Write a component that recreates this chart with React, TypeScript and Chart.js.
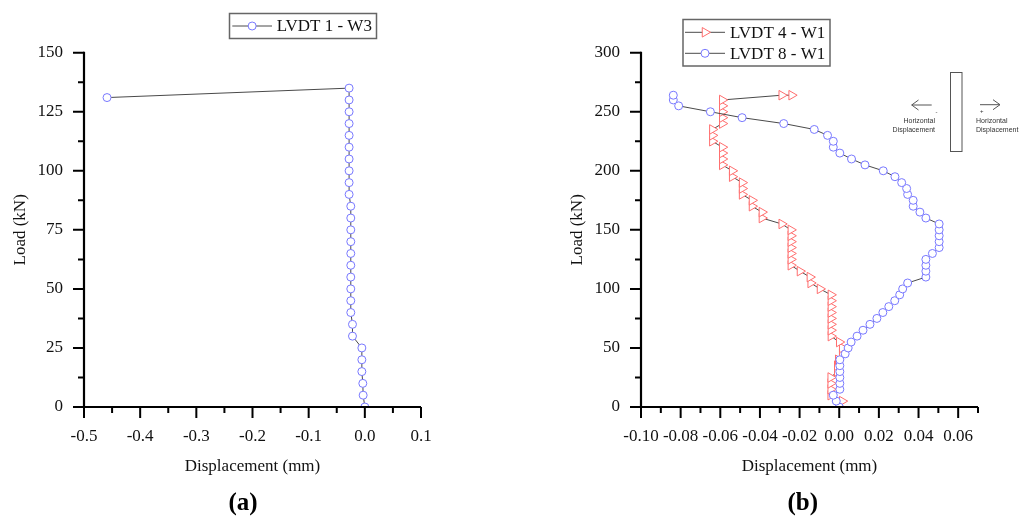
import { useEffect, useRef } from 'react';
import { Chart, registerables } from 'chart.js';

Chart.register(...registerables);

// ---------- (a) LVDT 1 - W3 ----------
const loadA = [0, 5, 10, 15, 20, 25, 30, 35, 40, 45, 50, 55, 60, 65, 70, 75, 80, 85, 90, 95, 100, 105, 110, 115, 120, 125, 130, 135, 131];
const dispA = [0, -0.003, -0.0036, -0.0053, -0.0053, -0.0053, -0.022, -0.022, -0.025, -0.025, -0.025, -0.025, -0.025, -0.025, -0.025, -0.025, -0.025, -0.025, -0.028, -0.028, -0.028, -0.028, -0.028, -0.028, -0.028, -0.028, -0.028, -0.028, -0.459];

// ---------- (b) LVDT 4 - W1 ----------
const loadB4 = [0, 5, 10, 15, 20, 25, 30, 35, 40, 45, 50, 55, 60, 65, 70, 75, 80, 85, 90, 95, 100, 105, 110, 115, 120, 125, 130, 135, 140, 145, 150, 155, 160, 165, 170, 175, 180, 185, 190, 195, 200, 205, 210, 215, 220, 225, 230, 235, 240, 245, 250, 255, 260, 264, 264];
const dispB4 = [0, 0.0015, -0.0043, -0.0043, -0.0043, -0.0043, -0.001, -0.001, -0.0005, 0.0015, 0.0015, 0.0, -0.0042, -0.0042, -0.0042, -0.0042, -0.0042, -0.0042, -0.0042, -0.0042, -0.0097, -0.0144, -0.0148, -0.0198, -0.0244, -0.0244, -0.0244, -0.0244, -0.0244, -0.0244, -0.0244, -0.029, -0.039, -0.039, -0.044, -0.044, -0.049, -0.049, -0.049, -0.054, -0.054, -0.059, -0.059, -0.059, -0.059, -0.064, -0.064, -0.064, -0.059, -0.059, -0.059, -0.059, -0.059, -0.029, -0.024];

// ---------- (b) LVDT 8 - W1 ----------
const loadB8 = [0, 5, 10, 15, 20, 25, 30, 35, 40, 45, 50, 55, 60, 65, 70, 75, 80, 85, 90, 95, 100, 105, 110, 115, 120, 125, 130, 135, 140, 145, 150, 155, 160, 165, 170, 175, 180, 185, 190, 195, 200, 205, 210, 215, 220, 225, 230, 235, 240, 245, 250, 255, 260, 264];
const dispB8 = [0, -0.0015, -0.003, 0.0003, 0.0003, 0.0003, 0.0003, 0.0003, 0.0003, 0.003, 0.0045, 0.006, 0.009, 0.012, 0.0155, 0.019, 0.022, 0.025, 0.028, 0.0305, 0.032, 0.0345, 0.0437, 0.0437, 0.0437, 0.0437, 0.047, 0.0504, 0.0504, 0.0504, 0.0504, 0.0504, 0.0437, 0.0407, 0.0373, 0.0373, 0.0345, 0.034, 0.0315, 0.0281, 0.0222, 0.013, 0.0062, 0.0003, -0.003, -0.003, -0.0059, -0.0126, -0.028, -0.049, -0.065, -0.081, -0.0837, -0.0837];

// ---------- ticks ----------
const xTicksA = [-0.5, -0.4, -0.3, -0.2, -0.1, 0, 0.1];
const xTickLabelsA = ['-0.5', '-0.4', '-0.3', '-0.2', '-0.1', '0.0', '0.1'];
const xMinorA = [-0.45, -0.35, -0.25, -0.15, -0.05, 0.05];
const yTicksA = [0, 25, 50, 75, 100, 125, 150];
const yTickLabelsA = ['0', '25', '50', '75', '100', '125', '150'];
const yMinorA = [12.5, 37.5, 62.5, 87.5, 112.5, 137.5];

const xTicksB = [-0.1, -0.08, -0.06, -0.04, -0.02, 0, 0.02, 0.04, 0.06];
const xTickLabelsB = ['-0.10', '-0.08', '-0.06', '-0.04', '-0.02', '0.00', '0.02', '0.04', '0.06'];
const xMinorB = [-0.09, -0.07, -0.05, -0.03, -0.01, 0.01, 0.03, 0.05, 0.07];
const yTicksB = [0, 50, 100, 150, 200, 250, 300];
const yTickLabelsB = ['0', '50', '100', '150', '200', '250', '300'];
const yMinorB = [25, 75, 125, 175, 225, 275];

const SERIF = "'Liberation Serif', 'Times New Roman', serif";
const SANS = "'Liberation Sans', Arial, sans-serif";
const BLUE = '#7878ff';
const RED = '#ff6e6e';
const LINE = '#4a4a4a';

function drawMarker(ctx: CanvasRenderingContext2D, style: string, x: number, y: number, color: string) {
  ctx.save();
  ctx.strokeStyle = color;
  ctx.fillStyle = '#fff';
  ctx.lineWidth = 1;
  ctx.beginPath();
  if (style === 'circle') {
    ctx.arc(x, y, 4, 0, Math.PI * 2);
  } else {
    const r = 5.5;
    ctx.moveTo(x + r, y);
    ctx.lineTo(x - r / 2, y - r * 0.866);
    ctx.lineTo(x - r / 2, y + r * 0.866);
    ctx.closePath();
  }
  ctx.fill();
  ctx.stroke();
  ctx.restore();
}

function axesPlugin(xMaj: number[], xMin: number[], yMaj: number[], yMin: number[]) {
  return {
    id: 'axesDraw',
    afterDatasetsDraw(chart: any) {
      const { ctx, chartArea } = chart;
      const { left, right, top, bottom } = chartArea;
      const xs = chart.scales.x;
      const ys = chart.scales.y;
      ctx.save();
      ctx.strokeStyle = '#000';
      ctx.lineWidth = 2.2;
      ctx.beginPath();
      ctx.moveTo(left, top - 1);
      ctx.lineTo(left, bottom);
      ctx.lineTo(right, bottom);
      ctx.stroke();
      ctx.lineWidth = 2;
      ctx.beginPath();
      yMaj.forEach((v) => { const p = ys.getPixelForValue(v); ctx.moveTo(left - 11, p); ctx.lineTo(left, p); });
      yMin.forEach((v) => { const p = ys.getPixelForValue(v); ctx.moveTo(left - 6, p); ctx.lineTo(left, p); });
      xMaj.forEach((v) => { const p = xs.getPixelForValue(v); ctx.moveTo(p, bottom); ctx.lineTo(p, bottom + 11); });
      xMin.forEach((v) => { const p = xs.getPixelForValue(v); ctx.moveTo(p, bottom); ctx.lineTo(p, bottom + 6); });
      ctx.stroke();
      ctx.restore();
    },
  };
}

type LegendEntry = { label: string; style: string; color: string };

function legendPlugin(box: { x: number; y: number; w: number; h: number }, entries: LegendEntry[], rowY: number[], lineX: [number, number], textX: number, panel: string, panelX: number, extra?: (ctx: CanvasRenderingContext2D) => void) {
  return {
    id: 'customLegend',
    afterDraw(chart: any) {
      const ctx: CanvasRenderingContext2D = chart.ctx;
      ctx.save();
      ctx.strokeStyle = '#666';
      ctx.lineWidth = 1.5;
      ctx.strokeRect(box.x, box.y, box.w, box.h);
      entries.forEach((e, i) => {
        const y = rowY[i];
        ctx.strokeStyle = LINE;
        ctx.lineWidth = 1;
        ctx.beginPath();
        ctx.moveTo(lineX[0], y);
        ctx.lineTo(lineX[1], y);
        ctx.stroke();
        drawMarker(ctx, e.style, (lineX[0] + lineX[1]) / 2, y, e.color);
        ctx.fillStyle = '#111';
        ctx.font = `17px ${SERIF}`;
        ctx.textAlign = 'left';
        ctx.textBaseline = 'middle';
        ctx.fillText(e.label, textX, y + 1);
      });
      ctx.fillStyle = '#000';
      ctx.font = `bold 25px ${SERIF}`;
      ctx.textAlign = 'center';
      ctx.textBaseline = 'middle';
      ctx.fillText(panel, panelX, 504);
      if (extra) extra(ctx);
      ctx.restore();
    },
  };
}

function drawInset(ctx: CanvasRenderingContext2D) {
  ctx.save();
  ctx.strokeStyle = '#555';
  ctx.lineWidth = 1;
  ctx.strokeRect(440.5, 72.5, 11.5, 79);
  ctx.beginPath();
  ctx.moveTo(421.7, 105);
  ctx.lineTo(401.7, 105);
  ctx.moveTo(408.5, 100);
  ctx.lineTo(401.7, 105);
  ctx.lineTo(408.5, 110);
  ctx.moveTo(470, 104.7);
  ctx.lineTo(490, 104.7);
  ctx.moveTo(483, 99.7);
  ctx.lineTo(490, 104.7);
  ctx.lineTo(483, 109.7);
  ctx.stroke();
  ctx.fillStyle = '#333';
  ctx.font = `7px ${SANS}`;
  ctx.textBaseline = 'middle';
  ctx.textAlign = 'right';
  ctx.fillText('Horizontal', 425, 120.7);
  ctx.fillText('Displacement', 425, 130);
  ctx.textAlign = 'left';
  ctx.fillText('Horizontal', 466, 120.7);
  ctx.fillText('Displacement', 466, 130);
  ctx.font = `6px ${SANS}`;
  ctx.textAlign = 'center';
  ctx.fillText('-', 426.5, 112);
  ctx.fillText('+', 471.7, 111.7);
  ctx.restore();
}

function makeScales(xMin: number, xMax: number, xT: number[], xL: string[], yMin: number, yMax: number, yT: number[], yL: string[]) {
  const tickFont = { family: SERIF, size: 17 };
  return {
    x: {
      type: 'linear',
      min: xMin,
      max: xMax,
      afterBuildTicks: (s: any) => { s.ticks = xT.map((v) => ({ value: v })); },
      afterFit: (s: any) => { s.height = 70; },
      grid: { display: false, drawTicks: false },
      border: { display: false },
      ticks: { callback: (_v: any, i: number) => xL[i], font: tickFont, color: '#111', padding: 19, maxRotation: 0, minRotation: 0, autoSkip: false },
      title: { display: true, text: 'Displacement (mm)', font: tickFont, color: '#111', padding: { top: 0, bottom: 0 } },
    },
    y: {
      type: 'linear',
      min: yMin,
      max: yMax,
      afterBuildTicks: (s: any) => { s.ticks = yT.map((v) => ({ value: v })); },
      afterFit: (s: any) => { s.width = 84; },
      grid: { display: false, drawTicks: false },
      border: { display: false },
      ticks: { callback: (_v: any, i: number) => yL[i], font: tickFont, color: '#111', padding: 21, autoSkip: false },
      title: { display: true, text: 'Load (kN)', font: tickFont, color: '#111', padding: { top: 10, bottom: 0 } },
    },
  };
}

export default function App() {
  const refA = useRef<HTMLCanvasElement>(null);
  const refB = useRef<HTMLCanvasElement>(null);

  useEffect(() => {
    const chartA = new Chart(refA.current as HTMLCanvasElement, {
      type: 'scatter',
      data: {
        datasets: [
          {
            label: 'LVDT 1 - W3',
            data: dispA.map((x, i) => ({ x, y: loadA[i] })),
            showLine: true,
            borderColor: LINE,
            borderWidth: 1,
            pointStyle: 'circle',
            pointRadius: 4,
            pointBorderColor: BLUE,
            pointBackgroundColor: '#fff',
            pointBorderWidth: 1,
          },
        ],
      },
      options: {
        responsive: false,
        animation: false,
        layout: { padding: { left: 0, right: 89, top: 52.7, bottom: 44 } },
        plugins: { legend: { display: false }, tooltip: { enabled: false } },
        scales: makeScales(-0.5, 0.1, xTicksA, xTickLabelsA, 0, 150, yTicksA, yTickLabelsA) as any,
      },
      plugins: [
        axesPlugin(xTicksA, xMinorA, yTicksA, yMinorA),
        legendPlugin({ x: 229.5, y: 13.5, w: 147, h: 25 }, [{ label: 'LVDT 1 - W3', style: 'circle', color: BLUE }], [26], [232.3, 272], 276.7, '(a)', 243),
      ],
    } as any);

    const chartB = new Chart(refB.current as HTMLCanvasElement, {
      type: 'scatter',
      data: {
        datasets: [
          {
            label: 'LVDT 4 - W1',
            data: dispB4.map((x, i) => ({ x, y: loadB4[i] })),
            showLine: true,
            borderColor: LINE,
            borderWidth: 1,
            pointStyle: 'triangle',
            rotation: 90,
            pointRadius: 5.5,
            pointBorderColor: RED,
            pointBackgroundColor: '#fff',
            pointBorderWidth: 1,
            order: 2,
          },
          {
            label: 'LVDT 8 - W1',
            data: dispB8.map((x, i) => ({ x, y: loadB8[i] })),
            showLine: true,
            borderColor: LINE,
            borderWidth: 1,
            pointStyle: 'circle',
            pointRadius: 4,
            pointBorderColor: BLUE,
            pointBackgroundColor: '#fff',
            pointBorderWidth: 1,
            order: 1,
          },
        ],
      },
      options: {
        responsive: false,
        animation: false,
        layout: { padding: { left: 47, right: 41, top: 52.7, bottom: 44 } },
        plugins: { legend: { display: false }, tooltip: { enabled: false } },
        scales: makeScales(-0.1, 0.07, xTicksB, xTickLabelsB, 0, 300, yTicksB, yTickLabelsB) as any,
      },
      plugins: [
        axesPlugin(xTicksB, xMinorB, yTicksB, yMinorB),
        legendPlugin(
          { x: 173, y: 19.5, w: 147, h: 46.5 },
          [
            { label: 'LVDT 4 - W1', style: 'tri', color: RED },
            { label: 'LVDT 8 - W1', style: 'circle', color: BLUE },
          ],
          [32.3, 53.3],
          [175, 215],
          220,
          '(b)',
          292.7,
          drawInset,
        ),
      ],
    } as any);

    return () => {
      chartA.destroy();
      chartB.destroy();
    };
  }, []);

  return (
    <div style={{ position: 'absolute', left: 0, top: 0, width: 1019, height: 521, background: '#fff', overflow: 'hidden' }}>
      <canvas ref={refA} width={510} height={521} style={{ position: 'absolute', left: 0, top: 0, width: 510, height: 521 }} />
      <canvas ref={refB} width={509} height={521} style={{ position: 'absolute', left: 510, top: 0, width: 509, height: 521 }} />
    </div>
  );
}
